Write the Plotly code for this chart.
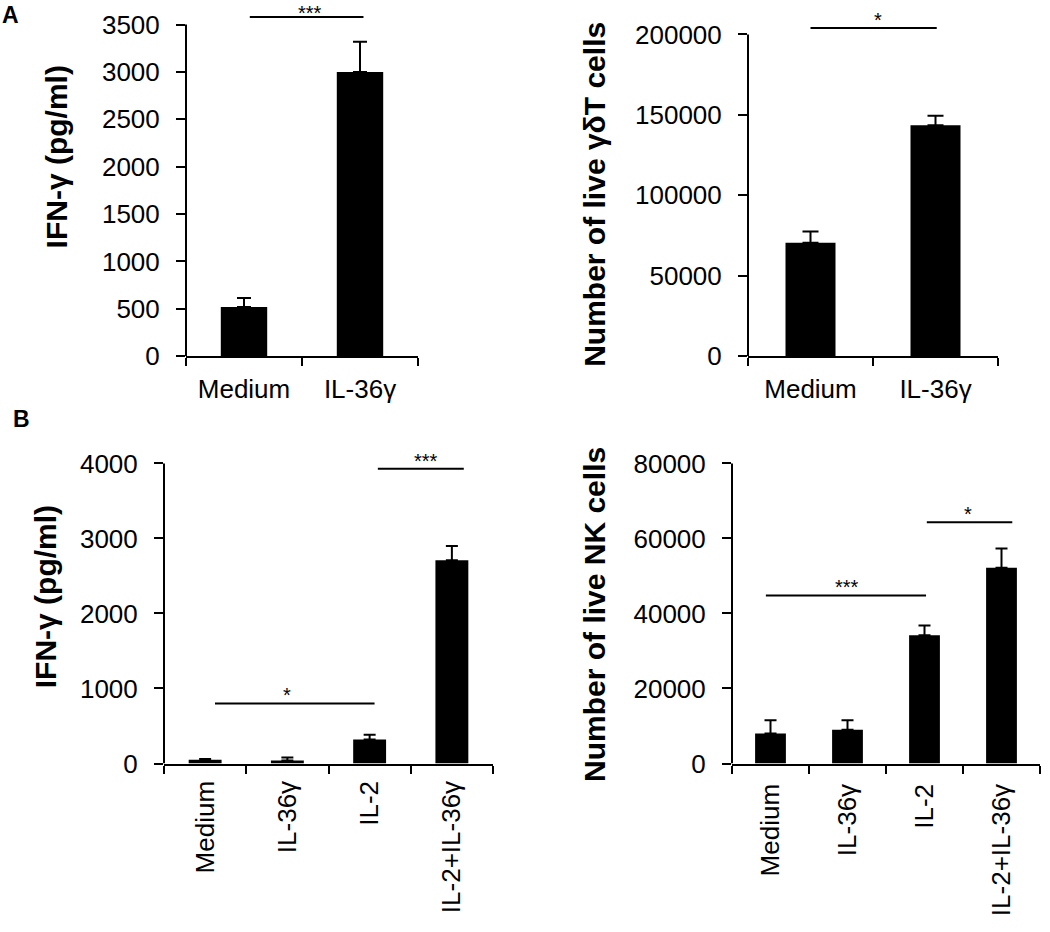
import plotly.graph_objects as go

W, H = 1050, 932
FONT = "Arial, 'Liberation Sans', Helvetica, sans-serif"

# ---------------- data ----------------
a_categories = ["Medium", "IL-36γ"]
b_categories = ["Medium", "IL-36γ", "IL-2", "IL-2+IL-36γ"]

a_ifn_mean = [520, 3000]
a_ifn_sem = [95, 320]
a_gd_mean = [70500, 143500]
a_gd_sem = [7000, 6000]
b_ifn_mean = [50, 40, 320, 2710]
b_ifn_sem = [10, 40, 65, 190]
b_nk_mean = [8000, 9000, 34200, 52200]
b_nk_sem = [3500, 2500, 2600, 5100]

a_ifn_ticks = [0, 500, 1000, 1500, 2000, 2500, 3000, 3500]
a_gd_ticks = [0, 50000, 100000, 150000, 200000]
b_ifn_ticks = [0, 1000, 2000, 3000, 4000]
b_nk_ticks = [0, 20000, 40000, 60000, 80000]

# significance brackets: (start category pos, end category pos, height, label, label pos)
a_ifn_sig = [(0.05, 1.03, 3580, "***", 0.57)]
a_gd_sig = [(0.0, 1.01, 204000, "*", 0.54)]
b_ifn_sig = [(0.12, 2.06, 800, "*", 1.0), (2.1, 3.145, 3930, "***", 2.69)]
b_nk_sig = [(-0.06, 2.02, 44800, "***", 0.99), (2.03, 3.14, 64300, "*", 2.57)]

a_ifn_title = "IFN-γ (pg/ml)"
a_gd_title = "Number of live γδT cells"
b_ifn_title = "IFN-γ (pg/ml)"
b_nk_title = "Number of live NK cells"

# ---------------- layout geometry (pixels) ----------------
# x_left, x_right, y_zero_px, y_max_px, domain_top_px
panels = [
    dict(cats=a_categories, mean=a_ifn_mean, sem=a_ifn_sem, ticks=a_ifn_ticks, sig=a_ifn_sig,
         title=a_ifn_title, geo=(186, 418, 362, 25, 0), title_xy=(56, 160), angle=0, capw=7,
         xstand=9),
    dict(cats=a_categories, mean=a_gd_mean, sem=a_gd_sem, ticks=a_gd_ticks, sig=a_gd_sig,
         title=a_gd_title, geo=(748, 998, 362, 35, 0), title_xy=(595, 198), angle=0, capw=8,
         xstand=9),
    dict(cats=b_categories, mean=b_ifn_mean, sem=b_ifn_sem, ticks=b_ifn_ticks, sig=b_ifn_sig,
         title=b_ifn_title, geo=(164, 493, 776, 471, 445), title_xy=(45, 607), angle=-90, capw=6,
         xstand=5),
    dict(cats=b_categories, mean=b_nk_mean, sem=b_nk_sem, ticks=b_nk_ticks, sig=b_nk_sig,
         title=b_nk_title, geo=(732, 1040, 776, 471, 445), title_xy=(595, 625), angle=-90, capw=6,
         xstand=8),
]

STAR_SIZE = 20

fig = go.Figure()
shapes = []
annotations = []
layout_axes = {}

for i, p in enumerate(panels):
    sfx = "" if i == 0 else str(i + 1)
    xl, xr, y0, ymx, ytop = p["geo"]
    ymax = p["ticks"][-1]
    range_top = ymax * (y0 - ytop) / (y0 - ymx)
    n = len(p["cats"])

    fig.add_trace(go.Bar(
        x=p["cats"], y=p["mean"], width=0.4,
        marker=dict(color="black", line=dict(width=0)),
        error_y=dict(type="data", array=p["sem"], arrayminus=[0] * n, symmetric=False,
                     color="black", thickness=2, width=p["capw"]),
        xaxis="x" + sfx, yaxis="y" + sfx, showlegend=False,
    ))

    layout_axes["xaxis" + sfx] = dict(
        domain=[xl / W, xr / W], anchor="y" + sfx, type="category",
        range=[-0.5, n - 0.5], showline=True, linecolor="black", linewidth=2,
        ticks="outside", tickson="boundaries", ticklen=8, tickwidth=2, tickcolor="black",
        tickangle=p["angle"], tickfont=dict(family=FONT, size=26, color="black"),
        showgrid=False, zeroline=False, fixedrange=True, ticklabelstandoff=p["xstand"],
    )
    layout_axes["yaxis" + sfx] = dict(
        domain=[1 - y0 / H, 1 - ytop / H], anchor="x" + sfx, range=[0, range_top],
        showline=False, ticks="outside", ticklen=9, tickwidth=2, tickcolor="black",
        tickmode="array", tickvals=p["ticks"], ticktext=[str(t) for t in p["ticks"]],
        tickfont=dict(family=FONT, size=26, color="black"),
        showgrid=False, zeroline=False, fixedrange=True, ticklabelstandoff=11,
    )
    # y axis line stopping at the top tick
    shapes.append(dict(type="line", xref="x" + sfx + " domain", yref="y" + sfx,
                       x0=0, x1=0, y0=0, y1=ymax, line=dict(color="black", width=2)))
    # significance brackets
    for (s0, s1, h, lab, lx) in p["sig"]:
        shapes.append(dict(type="line", xref="x" + sfx, yref="y" + sfx,
                           x0=s0, x1=s1, y0=h, y1=h, line=dict(color="black", width=2)))
        line_px = y0 - h / range_top * (y0 - ytop)
        star = dict(text=lab, x=lx, xref="x" + sfx, xanchor="center", showarrow=False,
                    font=dict(family=FONT, size=STAR_SIZE, color="black"))
        if line_px - 1.3 * STAR_SIZE < 0:
            # keep the label inside the page when the bracket sits at the very top
            star.update(y=1, yref="paper", yanchor="top")
        else:
            star.update(y=h, yref="y" + sfx, yanchor="bottom", yshift=-5)
        annotations.append(star)
    # y axis title
    tx, ty = p["title_xy"]
    annotations.append(dict(text=p["title"], x=tx / W, y=1 - ty / H, xref="paper", yref="paper",
                            xanchor="center", yanchor="middle", textangle=-90, showarrow=False,
                            font=dict(family=FONT, size=30, color="black", weight="bold")))

# panel letters
annotations.append(dict(text="A", x=0, y=1, xref="paper", yref="paper",
                        xanchor="left", yanchor="top", showarrow=False,
                        font=dict(family=FONT, size=23, color="black", weight="bold")))
annotations.append(dict(text="B", x=11 / W, y=1 - 411 / H, xref="paper", yref="paper",
                        xanchor="left", yanchor="top", showarrow=False,
                        font=dict(family=FONT, size=23, color="black", weight="bold")))

fig.update_layout(
    width=W, height=H, margin=dict(l=0, r=0, t=0, b=0),
    paper_bgcolor="white", plot_bgcolor="white",
    shapes=shapes, annotations=annotations, bargap=0.6,
    font=dict(family=FONT, color="black"),
    **layout_axes,
)

# remove the default page margin so the figure sits at the window's top-left corner
fig.write_html("out.html", config={"displayModeBar": False},
               post_script="document.body.style.margin='0';document.body.style.overflow='hidden';")
